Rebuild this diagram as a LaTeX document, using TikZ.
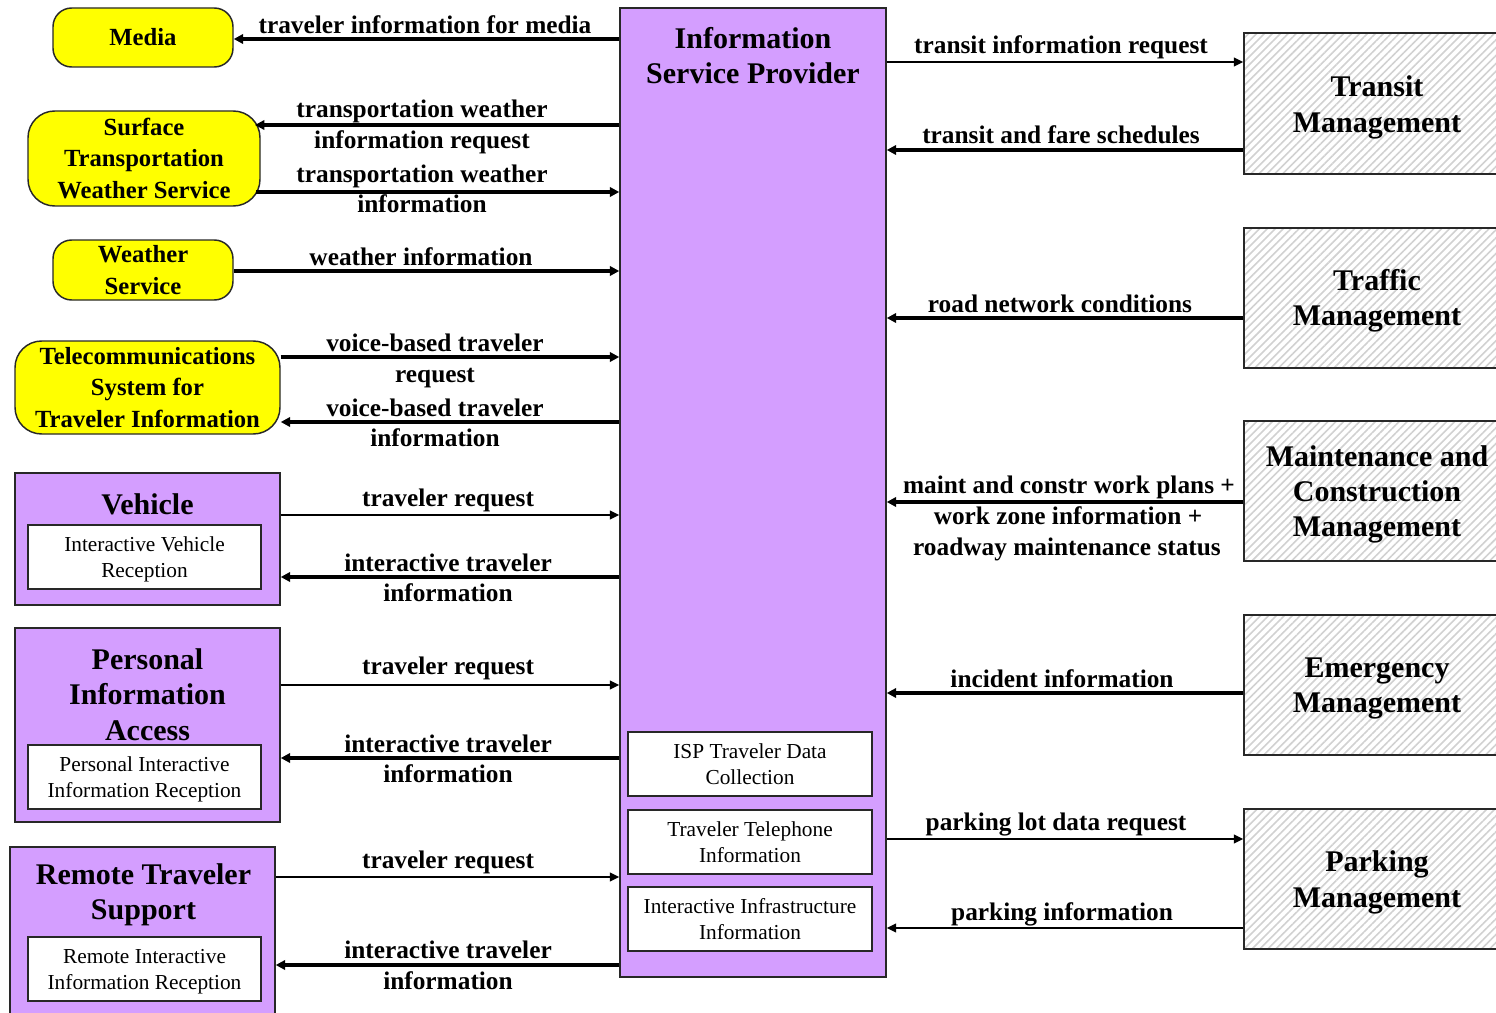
\documentclass[tikz,border=0pt]{standalone}
\usepackage{fontspec}
\setmainfont{Liberation Serif}
\usetikzlibrary{arrows.meta,patterns.meta}
\definecolor{ylw}{RGB}{255,255,0}
\definecolor{prp}{RGB}{212,158,255}
\definecolor{brd}{RGB}{40,40,40}
\tikzset{
 sz/.style 2 args={minimum width=#1*0.75pt,minimum height=#2*0.75pt},
 ybox/.style={draw=brd,line width=1.1pt,fill=ylw,rounded corners=14pt,inner sep=0pt,align=center,font=\bfseries\fontsize{18.5}{23.5}\selectfont},
 pbox/.style={draw=brd,line width=1.1pt,fill=prp,inner sep=0pt},
 wbox/.style={draw=brd,line width=1.1pt,fill=white,inner sep=0pt,align=center,font=\fontsize{16}{19.5}\selectfont,text depth=0pt},
 hbox/.style={draw=brd,line width=1.1pt,pattern={Lines[angle=45,distance=4.2pt,line width=1.2pt]},pattern color=black!18,inner sep=0pt},
 ttl/.style={align=center,font=\bfseries\fontsize{22.5}{26.5}\selectfont,inner sep=0pt},
 lbl/.style={font=\bfseries\fontsize{19}{23}\selectfont,inner sep=0pt,anchor=base},
 thk/.style={line width=2.8pt,-{Triangle[length=7pt,width=7pt]}},
 thn/.style={line width=1.2pt,-{Triangle[length=7pt,width=6.5pt]}}
}
\begin{document}
\begin{tikzpicture}[x=0.75pt,y=-0.75pt]
\useasboundingbox (0,0) rectangle (1496,1013);
\clip (0,0) rectangle (1496,1013);

% central ISP
\node[pbox,sz={266}{969}] (isp) at (753,492.5) {};
\node[ttl] (ispt) at (753,55.5) {Information\\Service Provider};
\node[wbox,sz={244}{64}] (isp1) at (750,764) {ISP Traveler Data\\Collection};
\node[wbox,sz={244}{64}] (isp2) at (750,842) {Traveler Telephone\\Information};
\node[wbox,sz={244}{64}] (isp3) at (750,919) {Interactive Infrastructure\\Information};

% yellow terminators
\node[ybox,sz={180}{59}] (media) at (143,37.5) {Media};
\node[ybox,sz={232}{95},rounded corners=20pt] (stws) at (144,158.5) {Surface\\Transportation\\Weather Service};
\node[ybox,sz={180}{60}] (ws) at (143,270) {Weather\\Service};
\node[ybox,sz={265}{93},rounded corners=20pt] (tel) at (147.5,387.5) {Telecommunications\\System for\\Traveler Information};

% purple subsystems
\node[pbox,sz={265}{132}] (veh) at (147.5,539) {};
\node[ttl] (veht) at (147.5,504) {Vehicle};
\node[wbox,sz={233}{64}] (veh1) at (144.5,557) {Interactive Vehicle\\Reception};

\node[pbox,sz={265}{194}] (pia) at (147.5,725) {};
\node[ttl] (piat) at (147.5,694.5) {Personal\\Information\\Access};
\node[wbox,sz={233}{64}] (pia1) at (144.5,777) {Personal Interactive\\Information Reception};

\node[pbox,sz={265}{175}] (rts) at (142.5,934.5) {};
\node[ttl] (rtst) at (143.5,894.5) {Remote Traveler\\Support};
\node[wbox,sz={233}{64}] (rts1) at (144.5,969) {Remote Interactive\\Information Reception};

% hatched terminators
\node[hbox,sz={266}{141}] (tm) at (1377,103.5) {};
\node[ttl] (tmt) at (1377,107.5) {Transit\\Management};
\node[hbox,sz={266}{140}] (trm) at (1377,298) {};
\node[ttl] (trmt) at (1377,301) {Traffic\\Management};
\node[hbox,sz={266}{140}] (mcm) at (1377,491) {};
\node[ttl] (mcmt) at (1377,494.5) {Maintenance and\\Construction\\Management};
\node[hbox,sz={266}{140}] (em) at (1377,685) {};
\node[ttl] (emt) at (1377,688.5) {Emergency\\Management};
\node[hbox,sz={266}{140}] (pm) at (1377,879) {};
\node[ttl] (pmt) at (1377,882.5) {Parking\\Management};

% left flows
\draw[thk] (isp.west |- 0,39) -- (media.east |- 0,39);
\node[lbl] (l1) at (425,34) {traveler information for media};

\draw[thk] (isp.west |- 0,125) -- (255,125);
\node[lbl] (l2a) at (422,118) {transportation weather};
\node[lbl] (l2b) at (422,149) {information request};

\draw[thk] (256,192) -- (isp.west |- 0,192);
\node[lbl] (l3a) at (422,183) {transportation weather};
\node[lbl] (l3b) at (422,213) {information};

\draw[thk] (ws.east |- 0,271) -- (isp.west |- 0,271);
\node[lbl] (l4) at (421,265) {weather information};

\draw[thk] (tel.east |- 0,357) -- (isp.west |- 0,357);
\node[lbl] (l5a) at (435,351) {voice-based traveler};
\node[lbl] (l5b) at (435,382) {request};

\draw[thk] (isp.west |- 0,422) -- (tel.east |- 0,422);
\node[lbl] (l6a) at (435,416) {voice-based traveler};
\node[lbl] (l6b) at (435,446) {information};

\draw[thn] (veh.east |- 0,515) -- (isp.west |- 0,515);
\node[lbl] (l7) at (448,506) {traveler request};

\draw[thk] (isp.west |- 0,577) -- (veh.east |- 0,577);
\node[lbl] (l8a) at (448,571) {interactive traveler};
\node[lbl] (l8b) at (448,601) {information};

\draw[thn] (pia.east |- 0,685) -- (isp.west |- 0,685);
\node[lbl] (l9) at (448,674) {traveler request};

\draw[thk] (isp.west |- 0,758) -- (pia.east |- 0,758);
\node[lbl] (l10a) at (448,752) {interactive traveler};
\node[lbl] (l10b) at (448,782) {information};

\draw[thn] (rts.east |- 0,877) -- (isp.west |- 0,877);
\node[lbl] (l11) at (448,868) {traveler request};

\draw[thk] (isp.west |- 0,965) -- (rts.east |- 0,965);
\node[lbl] (l12a) at (448,958) {interactive traveler};
\node[lbl] (l12b) at (448,989) {information};

% right flows
\draw[thn] (isp.east |- 0,62) -- (tm.west |- 0,62);
\node[lbl] (r1) at (1061,54) {transit information request};

\draw[thk] (tm.west |- 0,150) -- (isp.east |- 0,150);
\node[lbl] (r2) at (1061,144) {transit and fare schedules};

\draw[thk] (trm.west |- 0,318) -- (isp.east |- 0,318);
\node[lbl] (r3) at (1060,312) {road network conditions};

\draw[thk] (mcm.west |- 0,502) -- (isp.east |- 0,502);
\node[lbl] (r4a) at (1069,493) {maint and constr work plans +};
\node[lbl] (r4b) at (1068,524) {work zone information +};
\node[lbl] (r4c) at (1067,555) {roadway maintenance status};

\draw[thk] (em.west |- 0,693) -- (isp.east |- 0,693);
\node[lbl] (r5) at (1062,687) {incident information};

\draw[thn] (isp.east |- 0,839) -- (pm.west |- 0,839);
\node[lbl] (r6) at (1056,830) {parking lot data request};

\draw[thn] (pm.west |- 0,928) -- (isp.east |- 0,928);
\node[lbl] (r7) at (1062,920) {parking information};
\end{tikzpicture}
\end{document}
